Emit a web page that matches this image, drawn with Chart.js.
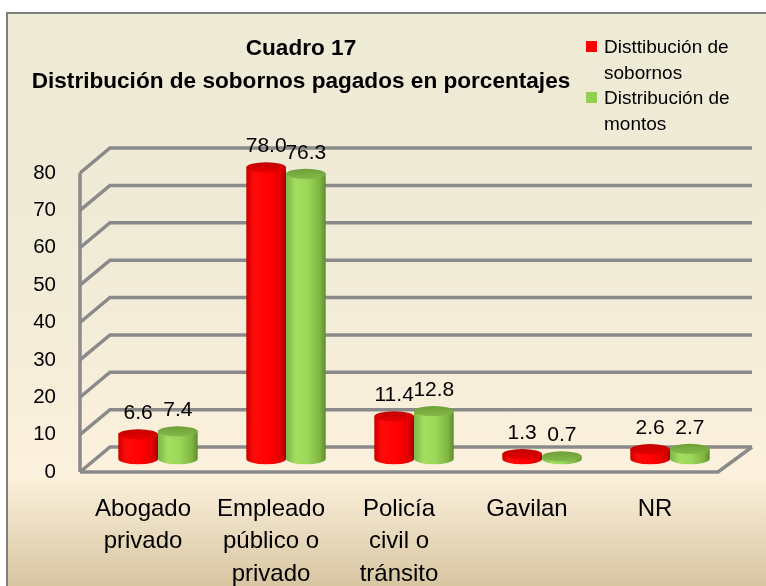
<!DOCTYPE html>
<html>
<head>
<meta charset="utf-8">
<script src="https://cdn.jsdelivr.net/npm/chart.js@4.4.0/dist/chart.umd.min.js"></script>
<style>
  html, body { margin: 0; padding: 0; background: #fff; }
  #wrap { position: relative; width: 766px; height: 586px; overflow: hidden; }
  #frame {
    position: absolute; left: 6px; top: 12px; width: 820px; height: 600px;
    border-top: 2px solid #7f7f7f; border-left: 2px solid #7f7f7f;
    background: linear-gradient(to bottom, #edead6 0%, #f1ebd7 45%, #fcf1dc 77%, #d6c49f 96%);
  }
  #chart { position: absolute; left: 0; top: 0; }
  #title {
    position: absolute; left: 0; top: 31px; width: 602px; text-align: center;
    font: bold 22.6px "Liberation Sans", Arial, sans-serif; line-height: 33px; color: #000;
  }
  #legend {
    position: absolute; left: 586px; top: 34px;
    font: 19px "Liberation Sans", Arial, sans-serif; line-height: 25.5px; color: #000;
  }
  .item { position: relative; padding-left: 18px; }
  .sw { position: absolute; left: 0; top: 7px; width: 11px; height: 11px; }
</style>
</head>
<body>
<div id="wrap">
  <div id="frame"></div>
  <canvas id="chart" width="766" height="586"></canvas>
  <div id="title"></div>
  <div id="legend"></div>
</div>
<script>
// --- data ---
const titleLines = ['Cuadro 17', 'Distribución de sobornos pagados en porcentajes'];
const categories = [
  ['Abogado', 'privado'],
  ['Empleado', 'público o', 'privado'],
  ['Policía', 'civil o', 'tránsito'],
  ['Gavilan'],
  ['NR']
];
const seriesNames = [['Disttibución de', 'sobornos'], ['Distribución de', 'montos']];
const sobornos = [6.6, 78.0, 11.4, 1.3, 2.6];
const montos = [7.4, 76.3, 12.8, 0.7, 2.7];
const yMin = 0, yMax = 80, yStep = 10;

// colours of the two cylinder series
const palettes = [
  { swatch: '#ff0000',
    body: [[0, '#c80000'], [0.18, '#ff0a0a'], [0.6, '#ff0000'], [0.88, '#e00000'], [1, '#a00000']],
    top: ['#c20000', '#e60000'] },
  { swatch: '#92d050',
    body: [[0, '#7cb545'], [0.25, '#a4de60'], [0.55, '#9ad758'], [0.86, '#7fb443'], [1, '#5c8c2f']],
    top: ['#6e9f38', '#84b94a'] }
];

// 3D offsets: back wall / front edge relative to the bar plane
const BACK = { dx: 16, dy: -12 };
const FRONT = { dx: -14, dy: 13 };
const GRID = '#8a8a8a';

document.getElementById('title').innerHTML = titleLines.join('<br>');
const legendEl = document.getElementById('legend');
seriesNames.forEach((lines, i) => {
  const d = document.createElement('div');
  d.className = 'item';
  d.innerHTML = '<span class="sw" style="background:' + palettes[i].swatch + '"></span>' + lines.join('<br>');
  legendEl.appendChild(d);
});

// gridlines drawn as back wall + floor + left wall
const wallsPlugin = {
  id: 'walls',
  beforeDatasetsDraw(chart) {
    const ctx = chart.ctx, y = chart.scales.y, a = chart.chartArea;
    ctx.save();
    ctx.strokeStyle = GRID;
    ctx.lineWidth = 3.5;
    const lx = a.left + FRONT.dx, bx = a.left + BACK.dx;
    for (let v = yMin; v <= yMax; v += yStep) {
      const ym = y.getPixelForValue(v);
      const yb = ym + BACK.dy, yf = ym + FRONT.dy;
      ctx.beginPath();
      ctx.moveTo(lx, yf);
      ctx.lineTo(bx, yb);
      ctx.lineTo(a.right + 18, yb);
      ctx.stroke();
      if (v === yMin) {
        ctx.beginPath();
        ctx.moveTo(lx, yf);
        ctx.lineTo(a.right - 16, yf);
        ctx.lineTo(a.right + 18, yb);
        ctx.stroke();
      }
    }
    ctx.beginPath();
    ctx.moveTo(lx, y.getPixelForValue(yMax) + FRONT.dy);
    ctx.lineTo(lx, y.getPixelForValue(yMin) + FRONT.dy);
    ctx.stroke();
    ctx.restore();
  }
};

function drawCylinder(ctx, el, pal) {
  const w = el.width, rx = w / 2, ry = w * 0.13;
  const x0 = el.x - rx, x1 = el.x + rx, top = el.y, base = el.base;
  const g = ctx.createLinearGradient(x0, 0, x1, 0);
  pal.body.forEach(s => g.addColorStop(s[0], s[1]));
  ctx.beginPath();
  ctx.moveTo(x0, top);
  ctx.lineTo(x0, base);
  ctx.ellipse(el.x, base, rx, ry, 0, Math.PI, 0, true);
  ctx.lineTo(x1, top);
  ctx.closePath();
  ctx.fillStyle = g;
  ctx.fill();
  const tg = ctx.createLinearGradient(0, top - ry, 0, top + ry);
  tg.addColorStop(0, pal.top[0]);
  tg.addColorStop(1, pal.top[1]);
  ctx.beginPath();
  ctx.ellipse(el.x, top, rx, ry, 0, 0, Math.PI * 2);
  ctx.fillStyle = tg;
  ctx.fill();
}

const cylinderPlugin = {
  id: 'cylinders',
  afterDatasetsDraw(chart) {
    const ctx = chart.ctx;
    ctx.save();
    chart.data.datasets.forEach((ds, i) => {
      chart.getDatasetMeta(i).data.forEach(el => drawCylinder(ctx, el, palettes[i]));
    });
    ctx.font = '21px "Liberation Sans", Arial, sans-serif';
    ctx.fillStyle = '#000';
    ctx.textAlign = 'center';
    ctx.textBaseline = 'middle';
    chart.data.datasets.forEach((ds, i) => {
      chart.getDatasetMeta(i).data.forEach((el, j) => {
        ctx.fillText(ds.data[j].toFixed(1), el.x, el.y - 21);
      });
    });
    ctx.restore();
  }
};

new Chart(document.getElementById('chart'), {
  type: 'bar',
  data: {
    labels: categories,
    datasets: [
      { label: seriesNames[0].join(' '), data: sobornos, backgroundColor: 'rgba(0,0,0,0)' },
      { label: seriesNames[1].join(' '), data: montos, backgroundColor: 'rgba(0,0,0,0)' }
    ]
  },
  options: {
    responsive: false,
    animation: false,
    events: [],
    layout: { padding: { top: 160, right: 32, left: 0, bottom: 0 } },
    datasets: { bar: { categoryPercentage: 0.62, barPercentage: 1.0 } },
    plugins: { legend: { display: false }, tooltip: { enabled: false } },
    scales: {
      x: {
        grid: { display: false, drawTicks: false },
        border: { display: false },
        ticks: {
          color: '#000', font: { family: '"Liberation Sans", Arial, sans-serif', size: 24, lineHeight: 1.35 },
          padding: 34, labelOffset: -15, maxRotation: 0, autoSkip: false
        },
        afterFit(s) { s.height = 127; }
      },
      y: {
        min: yMin, max: yMax,
        grid: { display: false, drawTicks: false },
        border: { display: false },
        ticks: {
          stepSize: yStep, color: '#000',
          font: { family: '"Liberation Sans", Arial, sans-serif', size: 20.5 },
          padding: 38, labelOffset: 13
        },
        afterFit(s) { s.width = 94; }
      }
    }
  },
  plugins: [wallsPlugin, cylinderPlugin]
});
</script>
</body>
</html>
